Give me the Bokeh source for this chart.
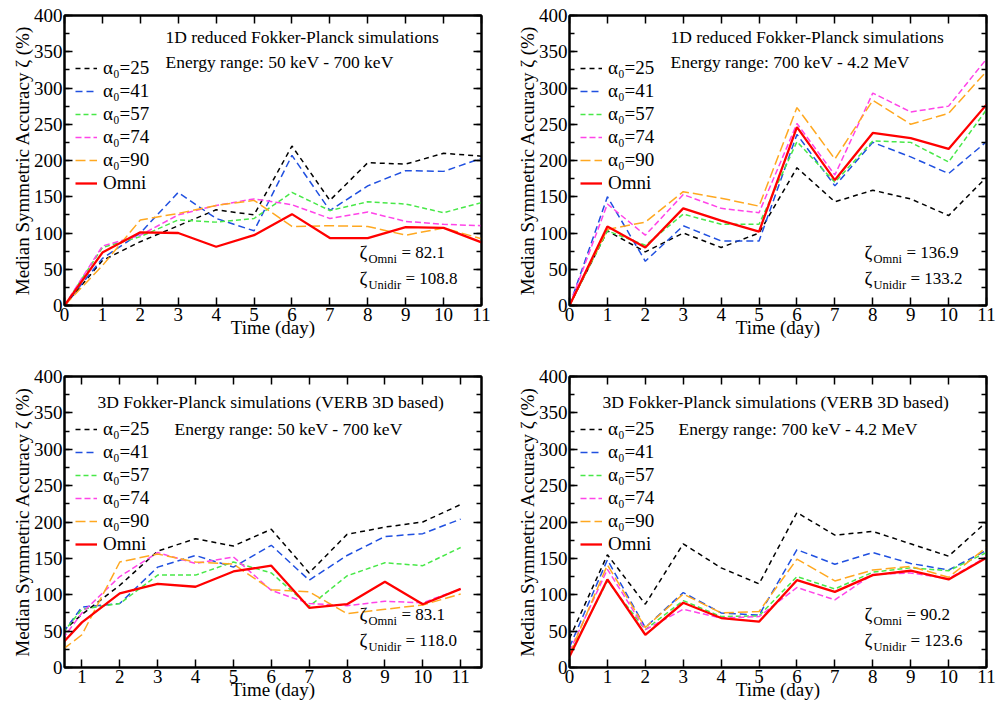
from bokeh.plotting import figure
from bokeh.layouts import column, row
from bokeh.models import (Range1d, LinearAxis, SingleIntervalTicker, Legend, LegendItem, Label)
from bokeh.embed import file_html
from bokeh.resources import INLINE

# ---------------- data ----------------
days = [0, 1, 2, 3, 4, 5, 6, 7, 8, 9, 10, 11]
days_3d_low = [0.5, 1, 2, 3, 4, 5, 6, 7, 8, 9, 10, 11]

series_labels = ["α₀=25", "α₀=41", "α₀=57", "α₀=74", "α₀=90", "Omni"]

# 1D reduced, 50 keV - 700 keV
tl_a25 = [0, 62, 88, 110, 132, 125, 220, 145, 197, 195, 210, 206]
tl_a41 = [0, 65, 100, 156, 120, 103, 207, 131, 165, 186, 185, 203]
tl_a57 = [0, 80, 95, 118, 115, 120, 156, 131, 143, 140, 128, 142]
tl_a74 = [0, 82, 97, 125, 138, 147, 139, 120, 129, 116, 112, 110]
tl_a90 = [0, 55, 118, 127, 138, 145, 109, 110, 109, 97, 107, 92]
tl_omni = [0, 73, 101, 100, 81, 97, 126, 93, 93, 108, 107, 87]

# 1D reduced, 700 keV - 4.2 MeV
tr_a25 = [0, 103, 74, 100, 80, 100, 190, 143, 159, 147, 124, 177]
tr_a41 = [0, 150, 61, 110, 89, 89, 236, 165, 225, 205, 182, 226]
tr_a57 = [0, 103, 83, 126, 112, 112, 226, 170, 227, 225, 198, 270]
tr_a74 = [0, 140, 97, 153, 134, 128, 251, 180, 293, 267, 275, 340]
tr_a90 = [0, 105, 115, 157, 148, 137, 273, 202, 283, 250, 265, 323]
tr_omni = [0, 109, 80, 134, 117, 102, 246, 173, 238, 231, 216, 277]

# 3D, 50 keV - 700 keV
bl_a25 = [50, 73, 113, 160, 177, 167, 190, 130, 183, 193, 200, 224]
bl_a41 = [48, 83, 88, 138, 154, 138, 168, 120, 154, 180, 184, 204]
bl_a57 = [48, 80, 88, 127, 127, 145, 130, 84, 126, 144, 140, 165]
bl_a74 = [40, 75, 125, 158, 143, 152, 106, 88, 85, 91, 89, 108]
bl_a90 = [25, 45, 145, 156, 145, 142, 107, 104, 74, 80, 86, 101]
bl_omni = [34, 62, 102, 115, 111, 132, 140, 82, 87, 118, 87, 108]

# 3D, 700 keV - 4.2 MeV
br_a25 = [40, 155, 87, 170, 137, 115, 213, 182, 187, 170, 153, 200]
br_a41 = [28, 148, 55, 103, 75, 72, 162, 142, 158, 143, 134, 161]
br_a57 = [18, 119, 52, 92, 70, 71, 125, 108, 131, 137, 133, 158]
br_a74 = [22, 135, 52, 80, 68, 70, 110, 93, 128, 130, 122, 152]
br_a90 = [18, 141, 55, 101, 75, 77, 149, 119, 134, 139, 124, 165]
br_omni = [15, 121, 45, 89, 68, 63, 120, 104, 127, 133, 121, 151]

titles_1d = "1D reduced Fokker-Planck simulations"
titles_3d = "3D Fokker-Planck simulations (VERB 3D based)"
energy_low = "Energy range: 50 keV - 700 keV"
energy_high = "Energy range: 700 keV - 4.2 MeV"
stats_tl = ["82.1", "108.8"]
stats_tr = ["136.9", "133.2"]
stats_bl = ["83.1", "118.0"]
stats_br = ["90.2", "123.6"]

# ---------------- styles ----------------
FONT = "Liberation Serif"
colors = ["#000000", "#2050e0", "#48e848", "#ff44e8", "#ffa820", "#ff0000"]
dashes = ["5 4", "7 4", "5 3", "6 3", "10 4", "solid"]
widths = [1.5, 1.5, 1.5, 1.5, 1.5, 2.3]


def style_ticks(ax):
    ax.axis_line_width = 2
    ax.major_tick_in = 8
    ax.major_tick_out = 0
    ax.minor_tick_in = 5
    ax.minor_tick_out = 0
    ax.major_tick_line_width = 1.5
    ax.minor_tick_line_width = 1.5


def make_panel(x, ys, xr, title, energy, stats, title_x, energy_x,
               border_left, border_right, border_top, border_bottom, fh):
    p = figure(frame_width=417, frame_height=fh, x_range=Range1d(*xr), y_range=Range1d(0, 400),
               output_backend="svg", toolbar_location=None,
               min_border_left=border_left, min_border_right=border_right,
               min_border_top=border_top, min_border_bottom=border_bottom,
               x_axis_label="Time (day)", y_axis_label="Median Symmetric Accuracy ζ (%)")
    p.background_fill_color = "white"
    p.border_fill_color = "white"
    p.xgrid.visible = False
    p.ygrid.visible = False
    p.outline_line_color = "black"
    p.outline_line_width = 2
    p.outline_line_alpha = 1

    p.xaxis.ticker = SingleIntervalTicker(interval=1, num_minor_ticks=0)
    p.yaxis.ticker = SingleIntervalTicker(interval=50, num_minor_ticks=2)

    for ax in [p.xaxis[0], p.yaxis[0]]:
        style_ticks(ax)
        ax.major_label_text_font = FONT
        ax.major_label_text_font_size = "19px"
        ax.major_label_text_color = "black"
        ax.axis_label_text_font = FONT
        ax.axis_label_text_font_style = "normal"
        ax.axis_label_text_color = "black"
        ax.major_label_standoff = 2
    p.xaxis[0].axis_label_text_font_size = "19px"
    p.xaxis[0].axis_label_standoff = -7
    p.yaxis[0].axis_label_text_font_size = "19px"
    p.yaxis[0].axis_label_standoff = -2

    # mirrored ticks on top and right (no labels)
    top = LinearAxis(ticker=SingleIntervalTicker(interval=1, num_minor_ticks=0))
    right = LinearAxis(ticker=SingleIntervalTicker(interval=50, num_minor_ticks=2))
    for ax in [top, right]:
        style_ticks(ax)
        ax.major_label_text_color = None
        ax.major_label_text_font_size = "10px"
        ax.major_label_standoff = 0
    p.add_layout(top, "above")
    p.add_layout(right, "right")

    renderers = []
    for yv, c, d, w in zip(ys, colors, dashes, widths):
        r = p.line(x, yv, line_color=c, line_dash=d, line_width=w)
        renderers.append(r)

    legend = Legend(items=[LegendItem(label=lab, renderers=[r]) for lab, r in zip(series_labels, renderers)],
                    location=(11, fh - 179))
    legend.label_text_font = FONT
    legend.label_text_font_size = "19px"
    legend.label_text_color = "black"
    legend.glyph_width = 22
    legend.glyph_height = 20
    legend.label_height = 20
    legend.label_standoff = 6
    legend.spacing = 1
    legend.padding = 0
    legend.margin = 0
    legend.border_line_alpha = 0
    legend.background_fill_alpha = 0
    p.add_layout(legend, "center")

    t_top = 21 if title == titles_1d else 25
    e_top = 46 if title == titles_1d else 52
    p.add_layout(Label(x=title_x, y=fh - t_top, x_units="screen", y_units="screen", text=title,
                       text_font=FONT, text_font_size="17.5px", text_baseline="middle", text_color="black"))
    p.add_layout(Label(x=energy_x, y=fh - e_top, x_units="screen", y_units="screen", text=energy,
                       text_font=FONT, text_font_size="17.5px", text_baseline="middle", text_color="black"))

    for (sub, val, yy, eqx) in [("Omni", stats[0], 53, 42), ("Unidir", stats[1], 27, 46)]:
        p.add_layout(Label(x=295, y=yy, x_units="screen", y_units="screen", text="ζ",
                           text_font=FONT, text_font_size="19px", text_baseline="middle", text_color="black"))
        p.add_layout(Label(x=304, y=yy - 6, x_units="screen", y_units="screen", text=sub,
                           text_font=FONT, text_font_size="12.5px", text_baseline="middle", text_color="black"))
        p.add_layout(Label(x=295 + eqx, y=yy, x_units="screen", y_units="screen", text="= " + val,
                           text_font=FONT, text_font_size="17px", text_baseline="middle", text_color="black"))
    return p


p1 = make_panel(days, [tl_a25, tl_a41, tl_a57, tl_a74, tl_a90, tl_omni], (0, 11), titles_1d, energy_low,
                stats_tl, 101, 101, 64, 32, 15, 46, 290)
p2 = make_panel(days, [tr_a25, tr_a41, tr_a57, tr_a74, tr_a90, tr_omni], (0, 11), titles_1d, energy_high,
                stats_tr, 101, 101, 56, 12, 15, 46, 290)
p3 = make_panel(days_3d_low, [bl_a25, bl_a41, bl_a57, bl_a74, bl_a90, bl_omni], (0.54, 11.55), titles_3d, energy_low,
                stats_bl, 33, 110, 64, 32, 25, 36, 291)
p4 = make_panel(days, [br_a25, br_a41, br_a57, br_a74, br_a90, br_omni], (0, 11), titles_3d, energy_high,
                stats_br, 33, 109, 56, 12, 25, 36, 291)

layout = column(row(p1, p2, spacing=0), row(p3, p4, spacing=0), spacing=0)
open("out.html", "w").write(file_html(layout, INLINE))
